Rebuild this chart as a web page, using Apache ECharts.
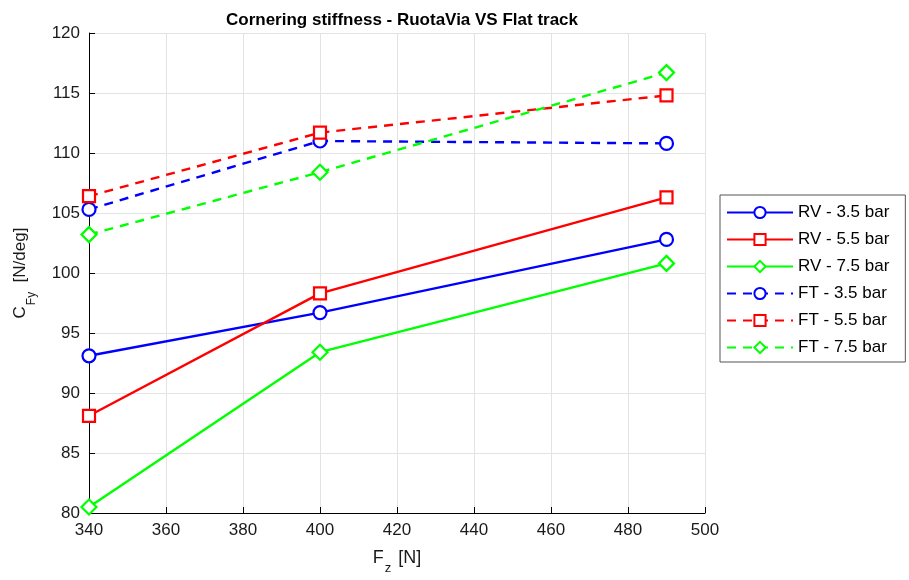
<!DOCTYPE html>
<html>
<head>
<meta charset="utf-8">
<script src="https://cdn.jsdelivr.net/npm/echarts@6/dist/echarts.min.js"></script>
<style>
html,body{margin:0;padding:0;background:#fff;}
#chart{width:909px;height:580px;}
</style>
</head>
<body>
<div id="chart"></div>
<script>
// Vertical load Fz [N]
const loads = [340, 400, 490];
// Cornering stiffness C_Fy [N/deg], RuotaVia (RV) and Flat track (FT)
const rv35 = [93.1, 96.7, 102.8];
const rv55 = [88.1, 98.3, 106.3];
const rv75 = [80.5, 93.4, 100.8];
const ft35 = [105.3, 111.0, 110.8];
const ft55 = [106.4, 111.7, 114.8];
const ft75 = [103.2, 108.4, 116.7];
const xTicks = [340, 360, 380, 400, 420, 440, 460, 480, 500];
const yTicks = [80, 85, 90, 95, 100, 105, 110, 115, 120];

const FONT = '"Liberation Sans", Arial, sans-serif';
const BLUE = '#0000ff', RED = '#ff0000', GREEN = '#00ff00';
const DIAMOND = 'path://M0,-1 L1,0 L0,1 L-1,0 Z';

function mk(name, vals, color, symbol, size, dashed) {
  return {
    name: name,
    type: 'line',
    data: loads.map((x, i) => [x, vals[i]]),
    symbol: symbol,
    symbolSize: size,
    showAllSymbol: true,
    itemStyle: { color: '#fff', borderColor: color, borderWidth: 2.2 },
    lineStyle: { color: color, width: 2.4, type: dashed ? [9, 7] : 'solid' },
    emphasis: { disabled: true },
    animation: false,
    z: dashed ? 2 : 3
  };
}

const chart = echarts.init(document.getElementById('chart'));
chart.setOption({
  backgroundColor: '#fff',
  animation: false,
  title: {
    text: 'Cornering stiffness - RuotaVia VS Flat track',
    left: 397, top: 7, textAlign: 'center',
    textStyle: { fontFamily: FONT, fontSize: 17, fontWeight: 'bold', color: '#000' }
  },
  grid: { left: 89, right: 204, top: 33, bottom: 67, outerBoundsMode: 'none', containLabel: false },
  xAxis: {
    type: 'value', min: 340, max: 500, interval: 20,
    axisLine: { show: true, onZero: false, lineStyle: { color: '#000', width: 1 } },
    axisTick: { show: true, inside: true, length: 6, lineStyle: { color: '#000' } },
    axisLabel: { fontFamily: FONT, fontSize: 17, color: '#1a1a1a', margin: 9,
      formatter: v => xTicks.includes(v) ? String(v) : '' },
    splitLine: { show: true, lineStyle: { color: '#e3e3e3', width: 1 } },
    name: '{a|F}{s|z}{a| [N]}',
    nameLocation: 'middle', nameGap: 36,
    nameTextStyle: {
      rich: {
        a: { fontFamily: FONT, fontSize: 18, color: '#1a1a1a', lineHeight: 26, verticalAlign: 'top' },
        s: { fontFamily: FONT, fontSize: 13, color: '#1a1a1a', lineHeight: 26, verticalAlign: 'bottom', padding: [0, 2, 0, 1] }
      }
    }
  },
  yAxis: {
    type: 'value', min: 80, max: 120, interval: 5,
    axisLine: { show: true, onZero: false, lineStyle: { color: '#000', width: 1 } },
    axisTick: { show: true, inside: true, length: 6, lineStyle: { color: '#000' } },
    axisLabel: { fontFamily: FONT, fontSize: 17, color: '#1a1a1a', margin: 9,
      formatter: v => yTicks.includes(v) ? String(v) : '' },
    splitLine: { show: true, lineStyle: { color: '#e3e3e3', width: 1 } },
    name: '{a|C}{s|Fy}{a|  [N/deg]}',
    nameLocation: 'middle', nameGap: 51, nameRotate: 90,
    nameTextStyle: {
      rich: {
        a: { fontFamily: FONT, fontSize: 17, color: '#1a1a1a', lineHeight: 26, verticalAlign: 'top' },
        s: { fontFamily: FONT, fontSize: 12, color: '#1a1a1a', lineHeight: 26, verticalAlign: 'bottom', padding: [0, 0, 0, 1] }
      }
    }
  },
  legend: {
    orient: 'vertical',
    left: 720, top: 195,
    padding: [9, 16, 6, 6],
    itemWidth: 66, itemHeight: 14, itemGap: 10,
    backgroundColor: '#fff',
    borderColor: '#555', borderWidth: 1,
    textStyle: { fontFamily: FONT, fontSize: 17, color: '#000', padding: [0, 0, 0, 0] },
    data: ['RV - 3.5 bar', 'RV - 5.5 bar', 'RV - 7.5 bar', 'FT - 3.5 bar', 'FT - 5.5 bar', 'FT - 7.5 bar']
  },
  series: [
    mk('RV - 3.5 bar', rv35, BLUE, 'circle', 13, false),
    mk('RV - 5.5 bar', rv55, RED, 'rect', 12, false),
    mk('RV - 7.5 bar', rv75, GREEN, DIAMOND, 15, false),
    mk('FT - 3.5 bar', ft35, BLUE, 'circle', 13, true),
    mk('FT - 5.5 bar', ft55, RED, 'rect', 12, true),
    mk('FT - 7.5 bar', ft75, GREEN, DIAMOND, 15, true)
  ]
});
</script>
</body>
</html>
